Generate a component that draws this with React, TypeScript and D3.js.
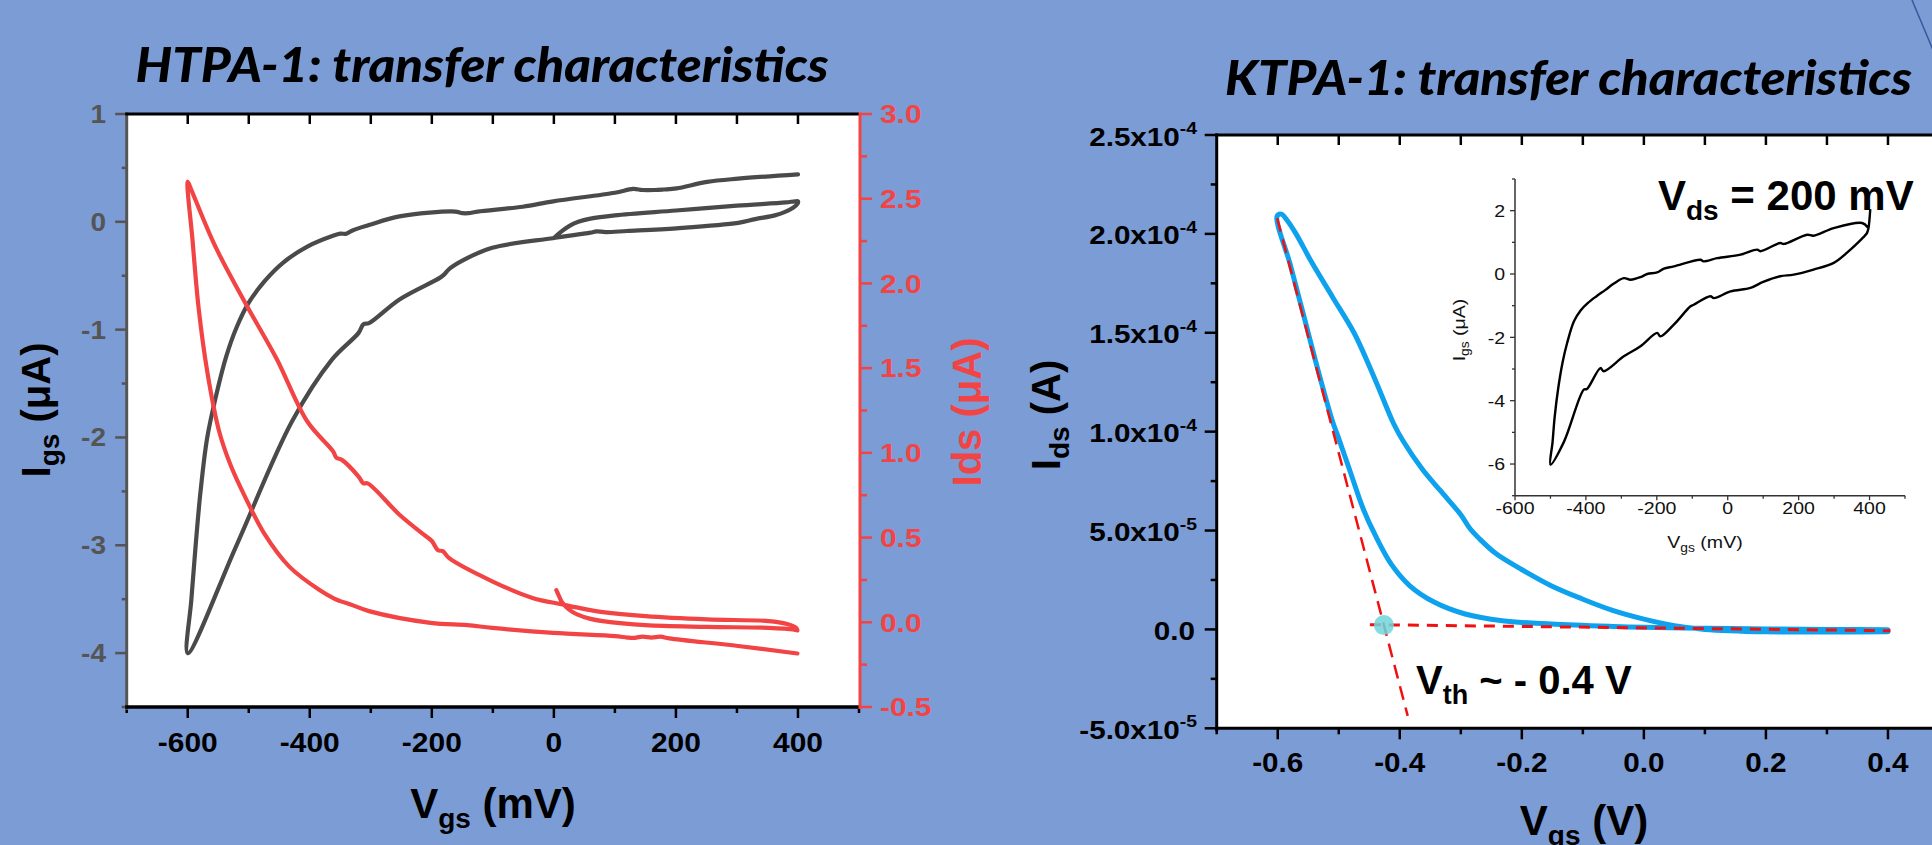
import React, { useEffect } from "react";
import * as d3 from "d3";

const BG = "#7C9CD5";
const ARIAL = "'Liberation Sans', Arial, Helvetica, sans-serif";
const TITLE_FONT = "Lato, 'Open Sans', sans-serif";
const GRAY = "#555555";
const RED = "#F24444";
const BLUE = "#0EA2EE";

// ---------------- HTPA-1 (left) ----------------
const htpaTitle = "HTPA-1: transfer characteristics";
const htpaXTicks = [-600, -400, -200, 0, 200, 400];
const htpaXMinor = [-700, -500, -300, -100, 100, 300, 500];
const htpaIgsTicks = [1, 0, -1, -2, -3, -4];
const htpaIgsMinor = [0.5, -0.5, -1.5, -2.5, -3.5, -4.5];
const htpaIdsTicks = [3.0, 2.5, 2.0, 1.5, 1.0, 0.5, 0.0, -0.5];
const htpaIdsMinor = [2.75, 2.25, 1.75, 1.25, 0.75, 0.25, -0.25];

// Igs (µA) vs Vgs (mV) - gray
const htpaIgs: [number, number][] = [
  [0, -0.15], [10, -0.1], [25, -0.04], [40, 0.0], [60, 0.03], [100, 0.06], [200, 0.105], [300, 0.15], [380, 0.18], [395, 0.19], [400, 0.19],
  [399, 0.165], [392, 0.13], [378, 0.09], [362, 0.06], [330, 0.025], [302, -0.01], [201, -0.06], [120, -0.085], [85, -0.095], [70, -0.088], [60, -0.1], [0, -0.15],
  [-101, -0.24], [-150, -0.36], [-172, -0.44], [-180, -0.49], [-187, -0.52], [-253, -0.72], [-303, -0.94], [-312, -0.95], [-320, -1.03], [-364, -1.28], [-429, -1.85], [-520, -3.0], [-600, -4.0],
  [-594, -3.5], [-587, -3.0], [-579, -2.5], [-568, -2.0], [-553, -1.6], [-537, -1.25], [-520, -0.98], [-500, -0.75], [-474, -0.55], [-444, -0.38], [-404, -0.23],
  [-362, -0.13], [-350, -0.11], [-340, -0.11], [-330, -0.08],
  [-303, -0.03], [-253, 0.05], [-162, 0.095], [-150, 0.08], [-140, 0.08], [-125, 0.095], [-51, 0.14], [-1, 0.19], [100, 0.27], [130, 0.305], [145, 0.295], [165, 0.295], [180, 0.3],
  [201, 0.31], [251, 0.37], [302, 0.4], [400, 0.44],
];

// Ids (µA) vs Vgs (mV) - red
const htpaIds: [number, number][] = [
  [4, 0.19], [9, 0.15], [14, 0.115], [25, 0.075], [39, 0.045], [60, 0.02], [80, 0.007], [150, -0.017], [251, -0.027], [352, -0.033], [392, -0.042], [399, -0.048],
  [396, -0.03], [382, -0.01], [352, 0.007], [251, 0.017], [150, 0.036], [80, 0.06], [53, 0.076], [14, 0.105], [-35, 0.144], [-101, 0.242], [-172, 0.38],
  [-182, 0.42], [-190, 0.425], [-200, 0.48], [-213, 0.517], [-253, 0.635], [-305, 0.82], [-312, 0.82], [-320, 0.86], [-348, 0.96], [-356, 0.97], [-362, 1.01],
  [-404, 1.185], [-455, 1.56], [-505, 1.88], [-555, 2.22], [-595, 2.56], [-600, 2.6],
  [-592, 2.25], [-582, 1.85], [-568, 1.48], [-548, 1.12], [-530, 0.93], [-505, 0.733], [-474, 0.52], [-434, 0.33], [-384, 0.19], [-360, 0.14], [-350, 0.125],
  [-333, 0.105], [-303, 0.066], [-202, -0.003], [-142, -0.017], [-101, -0.033], [-1, -0.063], [100, -0.082], [120, -0.09], [130, -0.092], [145, -0.085],
  [160, -0.09], [175, -0.085], [189, -0.095], [302, -0.14], [399, -0.184],
];

// ---------------- KTPA-1 (right) ----------------
const ktpaTitle = "KTPA-1: transfer characteristics";
const ktpaXTicks = [-0.6, -0.4, -0.2, 0.0, 0.2, 0.4];
const ktpaXLabels = ["-0.6", "-0.4", "-0.2", "0.0", "0.2", "0.4"];
const ktpaXMinor = [-0.7, -0.5, -0.3, -0.1, 0.1, 0.3, 0.5];
const ktpaYTicks = [2.5e-4, 2.0e-4, 1.5e-4, 1.0e-4, 5e-5, 0, -5e-5];
const ktpaYMantissa = ["2.5x10", "2.0x10", "1.5x10", "1.0x10", "5.0x10", "0.0", "-5.0x10"];
const ktpaYExponent = ["-4", "-4", "-4", "-4", "-5", "", "-5"];
const ktpaYMinor = [2.25e-4, 1.75e-4, 1.25e-4, 7.5e-5, 2.5e-5, -2.5e-5];

// Ids (A) vs Vgs (V) - blue loop
const ktpaIds: [number, number][] = [
  [0.4, -2e-7], [0.3, 0], [0.2, 2e-7], [0.1, 6e-7], [0.0, 1.1e-6], [-0.05, 1.5e-6], [-0.152, 2.7e-6], [-0.232, 4.4e-6], [-0.293, 7.8e-6],
  [-0.343, 1.37e-5], [-0.384, 2.22e-5], [-0.414, 3.3e-5], [-0.44, 4.75e-5], [-0.46, 6.1e-5], [-0.481, 7.96e-5], [-0.5, 9.65e-5],
  [-0.51, 1.05e-4], [-0.533, 1.3e-4], [-0.556, 1.57e-4], [-0.579, 1.84e-4], [-0.601, 2.09e-4],
  [-0.594, 2.1e-4], [-0.585, 2.07e-4], [-0.57, 2.0e-4], [-0.545, 1.86e-4], [-0.51, 1.68e-4], [-0.475, 1.5e-4], [-0.44, 1.26e-4], [-0.41, 1.04e-4],
  [-0.394, 9.5e-5], [-0.363, 8.1e-5], [-0.333, 7.0e-5], [-0.3, 5.8e-5], [-0.285, 5.1e-5], [-0.27, 4.6e-5], [-0.242, 3.82e-5], [-0.202, 3.06e-5],
  [-0.152, 2.21e-5], [-0.101, 1.54e-5], [-0.05, 9.5e-6], [0.0, 5.2e-6], [0.05, 1.9e-6], [0.1, 0], [0.2, -1.2e-6], [0.3, -1.3e-6], [0.4, -1.2e-6],
];
const tangentLine: [number, number][] = [[-0.601, 2.08e-4], [-0.387, -4.37e-5]];
const baseLine: [number, number][] = [[-0.449, 2.4e-6], [0.404, -6.6e-7]];
const vthPoint: [number, number] = [-0.426, 2.2e-6];

// ---------------- Inset: Igs (µA) vs Vgs (mV) ----------------
const insetXTicks = [-600, -400, -200, 0, 200, 400];
const insetXMinor = [-500, -300, -100, 100, 300, 500];
const insetYTicks = [2, 0, -2, -4, -6];
const insetYMinor = [3, 1, -1, -3, -5, -7];
const insetIgs: [number, number][] = [
  [402, 2.05], [397, 1.45], [393, 1.3], [386, 1.2], [379, 1.12], [346, 0.77], [299, 0.35], [242, 0.14], [186, -0.02], [148, -0.07], [100, -0.25], [64, -0.44],
  [8, -0.55], [-39, -0.76], [-49, -0.7], [-96, -0.97], [-105, -1.02], [-152, -1.6], [-190, -1.97], [-199, -1.86], [-246, -2.28], [-293, -2.6],
  [-350, -3.07], [-359, -2.97], [-397, -3.63], [-406, -3.65], [-462, -5.3], [-500, -6.02],
  [-494, -5.3], [-488, -4.5], [-478, -3.6], [-466, -2.8], [-453, -2.18], [-434, -1.5], [-415, -1.15], [-395, -0.92], [-370, -0.7], [-345, -0.5], [-321, -0.3], [-293, -0.13],
  [-274, -0.18], [-246, -0.1], [-227, 0.0], [-199, 0.05], [-180, 0.17], [-152, 0.24], [-77, 0.45], [-68, 0.4], [-30, 0.5], [36, 0.61], [83, 0.77],
  [92, 0.72], [148, 0.98], [158, 0.95], [224, 1.24], [242, 1.21], [299, 1.45], [379, 1.61], [395, 1.47],
];

type TxtProps = {
  x: number; y: number; sx?: number; rot?: number; anchor?: string; size: number; weight?: number | string;
  fill?: string; family?: string; italic?: boolean; textLength?: number; children?: React.ReactNode;
};
function Txt({ x, y, sx = 1, rot = 0, anchor = "start", size, weight = 700, fill = "#000", family = ARIAL, italic, textLength, children }: TxtProps) {
  const tr = `translate(${x},${y})${rot ? ` rotate(${rot})` : ""}${sx !== 1 ? ` scale(${sx},1)` : ""}`;
  return (
    <text transform={tr} textAnchor={anchor as any} fontSize={size} fontWeight={weight as any} fill={fill} fontFamily={family}
      fontStyle={italic ? "italic" : "normal"} textLength={textLength} lengthAdjust={textLength ? "spacingAndGlyphs" : undefined}>
      {children}
    </text>
  );
}

export default function App() {
  useEffect(() => {
    document.body.style.margin = "0";
    document.body.style.background = BG;
  }, []);

  // Left scales
  const L = { x0: 126.7, x1: 859, y0: 114, y1: 707 };
  const lx = d3.scaleLinear().domain([-700, 500]).range([L.x0, L.x1]);
  const lyIgs = d3.scaleLinear().domain([-4.5, 1]).range([L.y1, L.y0]);
  const lyIds = d3.scaleLinear().domain([-0.5, 3]).range([L.y1, L.y0]);

  // Right scales
  const R = { x0: 1216.7, x1: 1949, y0: 135, y1: 728.3 };
  const rx = d3.scaleLinear().domain([-0.7, 0.5]).range([R.x0, R.x1]);
  const ry = d3.scaleLinear().domain([-5e-5, 2.5e-4]).range([R.y1, R.y0]);

  // Inset scales
  const I = { x0: 1515, x1: 1905, y0: 179, y1: 495.7 };
  const ix = d3.scaleLinear().domain([-600, 500]).range([I.x0, I.x1]);
  const iy = d3.scaleLinear().domain([-7, 3]).range([I.y1, I.y0]);

  const lineIgs = d3.line<[number, number]>().x(d => lx(d[0])).y(d => lyIgs(d[1])).curve(d3.curveCatmullRom.alpha(0.5));
  const lineIds = d3.line<[number, number]>().x(d => lx(d[0])).y(d => lyIds(d[1])).curve(d3.curveCatmullRom.alpha(0.5));
  const lineK = d3.line<[number, number]>().x(d => rx(d[0])).y(d => ry(d[1])).curve(d3.curveCatmullRom.alpha(0.5));
  const lineKStraight = d3.line<[number, number]>().x(d => rx(d[0])).y(d => ry(d[1]));
  const lineInset = d3.line<[number, number]>().x(d => ix(d[0])).y(d => iy(d[1])).curve(d3.curveCatmullRom.alpha(0.5));

  return (
    <svg width={1932} height={845} style={{ position: "absolute", left: 0, top: 0, display: "block" }}>
      <rect x={0} y={0} width={1932} height={845} fill={BG} />
      <line x1={1912} y1={0} x2={1933} y2={50} stroke="#35589A" strokeWidth={1.5} />

      {/* ================= LEFT CHART ================= */}
      <Txt x={135.5} y={81.7} size={47} family={TITLE_FONT} italic weight={900} textLength={693}>{htpaTitle}</Txt>
      <rect x={L.x0} y={L.y0} width={L.x1 - L.x0} height={L.y1 - L.y0} fill="#fff" />
      <path d={lineIgs(htpaIgs) || ""} fill="none" stroke="#4A4A4A" strokeWidth={4.2} strokeLinejoin="round" strokeLinecap="round" />
      <path d={lineIds(htpaIds) || ""} fill="none" stroke={RED} strokeWidth={4.2} strokeLinejoin="round" strokeLinecap="round" />

      {/* top ticks inward */}
      {[...htpaXTicks, ...htpaXMinor.filter(v => v > -700 && v < 500)].map(v => (
        <line key={"lt" + v} x1={lx(v)} x2={lx(v)} y1={L.y0} y2={L.y0 + 10} stroke="#000" strokeWidth={2.5} />
      ))}
      {/* bottom ticks */}
      {htpaXTicks.map(v => (
        <line key={"lb" + v} x1={lx(v)} x2={lx(v)} y1={L.y1} y2={L.y1 + 11} stroke="#000" strokeWidth={2.5} />
      ))}
      {htpaXMinor.map(v => (
        <line key={"lbm" + v} x1={lx(v)} x2={lx(v)} y1={L.y1} y2={L.y1 + 6} stroke="#000" strokeWidth={2.5} />
      ))}
      {htpaXTicks.map(v => (
        <Txt key={"lbl" + v} x={lx(v)} y={751.7} size={28} sx={1.07} anchor="middle">{String(v)}</Txt>
      ))}
      {/* left gray axis */}
      {htpaIgsTicks.map(v => (
        <line key={"lg" + v} x1={L.x0 - 11.5} x2={L.x0} y1={lyIgs(v)} y2={lyIgs(v)} stroke={GRAY} strokeWidth={2.5} />
      ))}
      {htpaIgsMinor.map(v => (
        <line key={"lgm" + v} x1={L.x0 - 5} x2={L.x0} y1={lyIgs(v)} y2={lyIgs(v)} stroke={GRAY} strokeWidth={2.5} />
      ))}
      {htpaIgsTicks.map(v => (
        <Txt key={"lgl" + v} x={106} y={lyIgs(v) + 9} size={25} sx={1.12} anchor="end" fill={GRAY}>{String(v)}</Txt>
      ))}
      {/* right red axis */}
      {htpaIdsTicks.map(v => (
        <line key={"lr" + v} x1={860} x2={872} y1={lyIds(v)} y2={lyIds(v)} stroke={RED} strokeWidth={2.5} />
      ))}
      {htpaIdsMinor.map(v => (
        <line key={"lrm" + v} x1={860} x2={867} y1={lyIds(v)} y2={lyIds(v)} stroke={RED} strokeWidth={2.5} />
      ))}
      {htpaIdsTicks.map(v => (
        <Txt key={"lrl" + v} x={880} y={lyIds(v) + 9.3} size={26} sx={1.15} fill={RED}>{v.toFixed(1)}</Txt>
      ))}
      {/* frame lines */}
      <line x1={L.x0} x2={L.x0} y1={L.y0 - 1.5} y2={L.y1 + 3} stroke={GRAY} strokeWidth={3} />
      <line x1={L.x0 - 1.5} x2={L.x1} y1={L.y0} y2={L.y0} stroke="#000" strokeWidth={3} />
      <line x1={L.x0 - 1.5} x2={L.x1 + 1} y1={L.y1} y2={L.y1} stroke="#000" strokeWidth={3.5} />
      <line x1={860} x2={860} y1={L.y0 - 1.5} y2={L.y1 + 2} stroke={RED} strokeWidth={3} />

      {/* axis titles */}
      <Txt x={50} y={410} rot={-90} size={40} anchor="middle">
        I<tspan fontSize={28} dy={9}>gs</tspan><tspan dy={-9}> (μA)</tspan>
      </Txt>
      <Txt x={981} y={412} rot={-90} size={40} anchor="middle" fill={RED}>Ids (μA)</Txt>
      <Txt x={493} y={818} size={42} anchor="middle">
        V<tspan fontSize={28} dy={10}>gs</tspan><tspan dy={-10}> (mV)</tspan>
      </Txt>

      {/* ================= RIGHT CHART ================= */}
      <Txt x={1225} y={95} size={47} family={TITLE_FONT} italic weight={900} textLength={687}>{ktpaTitle}</Txt>
      <rect x={R.x0} y={R.y0} width={1932 - R.x0} height={R.y1 - R.y0} fill="#fff" />

      {/* inset */}
      <path d={lineInset(insetIgs) || ""} fill="none" stroke="#000" strokeWidth={2.4} strokeLinejoin="round" />
      <line x1={I.x0} x2={I.x0} y1={I.y0} y2={I.y1} stroke="#333" strokeWidth={1.5} />
      <line x1={I.x0} x2={I.x1} y1={I.y1} y2={I.y1} stroke="#333" strokeWidth={1.5} />
      {insetYTicks.map(v => (
        <line key={"iy" + v} x1={I.x0 - 5} x2={I.x0} y1={iy(v)} y2={iy(v)} stroke="#333" strokeWidth={1.3} />
      ))}
      {insetYMinor.map(v => (
        <line key={"iym" + v} x1={I.x0 - 3} x2={I.x0} y1={iy(v)} y2={iy(v)} stroke="#333" strokeWidth={1.3} />
      ))}
      {insetXTicks.map(v => (
        <line key={"ix" + v} x1={ix(v)} x2={ix(v)} y1={I.y1} y2={I.y1 + 4.5} stroke="#333" strokeWidth={1.3} />
      ))}
      {insetXMinor.map(v => (
        <line key={"ixm" + v} x1={ix(v)} x2={ix(v)} y1={I.y1} y2={I.y1 + 3} stroke="#333" strokeWidth={1.3} />
      ))}
      {insetYTicks.map(v => (
        <Txt key={"iyl" + v} x={1505} y={iy(v) + 6.2} size={17} sx={1.15} weight={400} anchor="end" fill="#111">{String(v)}</Txt>
      ))}
      {insetXTicks.map(v => (
        <Txt key={"ixl" + v} x={ix(v)} y={513.5} size={17} sx={1.15} weight={400} anchor="middle" fill="#111">{String(v)}</Txt>
      ))}
      <Txt x={1465} y={330} rot={-90} size={17} sx={1.15} weight={400} anchor="middle" fill="#111">
        I<tspan fontSize={12} dy={4}>gs</tspan><tspan dy={-4}> (μA)</tspan>
      </Txt>
      <Txt x={1705} y={548} size={17} sx={1.15} weight={400} anchor="middle" fill="#111">
        V<tspan fontSize={12} dy={4}>gs</tspan><tspan dy={-4}> (mV)</tspan>
      </Txt>
      <Txt x={1658} y={210} size={42}>
        V<tspan fontSize={28} dy={10}>ds</tspan><tspan dy={-10}> = 200 mV</tspan>
      </Txt>

      {/* main curve */}
      <path d={lineK(ktpaIds) || ""} fill="none" stroke={BLUE} strokeWidth={5} strokeLinejoin="round" strokeLinecap="round" />
      <path d={lineKStraight(tangentLine) || ""} fill="none" stroke="#F01010" strokeWidth={2.5} strokeDasharray="14,8" />
      <path d={lineKStraight(baseLine) || ""} fill="none" stroke="#F01010" strokeWidth={3} strokeDasharray="11,8" />
      <circle cx={rx(vthPoint[0])} cy={ry(vthPoint[1])} r={10} fill="#6FD6DA" fillOpacity={0.85} />
      <Txt x={1416} y={694} size={40}>
        V<tspan fontSize={27} dy={10}>th</tspan><tspan dy={-10}> ~ - 0.4 V</tspan>
      </Txt>

      {/* right axes */}
      {[...ktpaXTicks, ...ktpaXMinor.filter(v => v > -0.7)].map(v => (
        <line key={"rt" + v} x1={rx(v)} x2={rx(v)} y1={R.y0} y2={R.y0 + 10} stroke="#000" strokeWidth={2.5} />
      ))}
      {ktpaXTicks.map(v => (
        <line key={"rb" + v} x1={rx(v)} x2={rx(v)} y1={R.y1} y2={R.y1 + 11} stroke="#000" strokeWidth={2.5} />
      ))}
      {ktpaXMinor.map(v => (
        <line key={"rbm" + v} x1={rx(v)} x2={rx(v)} y1={R.y1} y2={R.y1 + 6} stroke="#000" strokeWidth={2.5} />
      ))}
      {ktpaXTicks.map((v, i) => (
        <Txt key={"rbl" + v} x={rx(v)} y={772} size={28} sx={1.06} anchor="middle">{ktpaXLabels[i]}</Txt>
      ))}
      {ktpaYTicks.map(v => (
        <line key={"ry" + v} x1={R.x0 - 12} x2={R.x0} y1={ry(v)} y2={ry(v)} stroke="#000" strokeWidth={2.5} />
      ))}
      {ktpaYMinor.map(v => (
        <line key={"rym" + v} x1={R.x0 - 6} x2={R.x0} y1={ry(v)} y2={ry(v)} stroke="#000" strokeWidth={2.5} />
      ))}
      {ktpaYTicks.map((v, i) => (
        <Txt key={"ryl" + v} x={ktpaYExponent[i] ? 1197 : 1195} y={ry(v) + 10.5} size={26} sx={1.14} anchor="end">
          {ktpaYMantissa[i]}
          {ktpaYExponent[i] ? <tspan fontSize={17} dy={-11.5}>{ktpaYExponent[i]}</tspan> : null}
        </Txt>
      ))}
      <line x1={R.x0} x2={R.x0} y1={R.y0 - 1.5} y2={R.y1 + 3} stroke="#000" strokeWidth={3} />
      <line x1={R.x0 - 1.5} x2={1932} y1={R.y0} y2={R.y0} stroke="#000" strokeWidth={3} />
      <line x1={R.x0 - 1.5} x2={1932} y1={R.y1} y2={R.y1} stroke="#000" strokeWidth={3} />

      <Txt x={1060} y={415} rot={-90} size={40} anchor="middle">
        I<tspan fontSize={28} dy={9}>ds</tspan><tspan dy={-9}> (A)</tspan>
      </Txt>
      <Txt x={1584} y={835} size={42} anchor="middle">
        V<tspan fontSize={28} dy={10}>gs</tspan><tspan dy={-10}> (V)</tspan>
      </Txt>
    </svg>
  );
}
